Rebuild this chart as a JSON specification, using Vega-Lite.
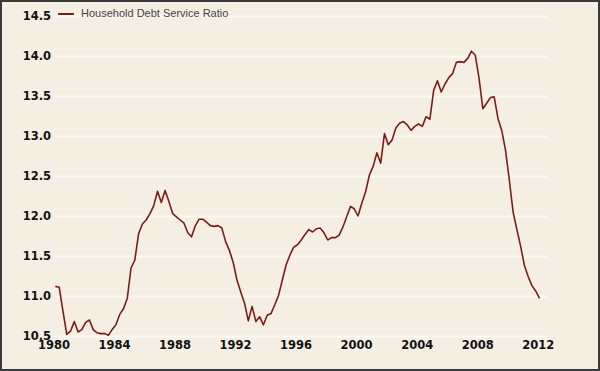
{
  "$schema": "https://vega.github.io/schema/vega-lite/v6.json",
  "width": 598,
  "height": 369,
  "autosize": {"type": "none"},
  "padding": 1,
  "background": "#f5eee2",
  "config": {
    "view": {"stroke": "#3a3a3a", "strokeWidth": 2, "fill": "#f5eee2"}
  },
  "data": {
    "values": [
      {"year": 1980.125, "value": 11.12, "series": "Household Debt Service Ratio"},
      {"year": 1980.375, "value": 11.11, "series": "Household Debt Service Ratio"},
      {"year": 1980.625, "value": 10.81, "series": "Household Debt Service Ratio"},
      {"year": 1980.875, "value": 10.52, "series": "Household Debt Service Ratio"},
      {"year": 1981.125, "value": 10.56, "series": "Household Debt Service Ratio"},
      {"year": 1981.375, "value": 10.68, "series": "Household Debt Service Ratio"},
      {"year": 1981.625, "value": 10.55, "series": "Household Debt Service Ratio"},
      {"year": 1981.875, "value": 10.58, "series": "Household Debt Service Ratio"},
      {"year": 1982.125, "value": 10.67, "series": "Household Debt Service Ratio"},
      {"year": 1982.375, "value": 10.70, "series": "Household Debt Service Ratio"},
      {"year": 1982.625, "value": 10.58, "series": "Household Debt Service Ratio"},
      {"year": 1982.875, "value": 10.54, "series": "Household Debt Service Ratio"},
      {"year": 1983.125, "value": 10.53, "series": "Household Debt Service Ratio"},
      {"year": 1983.375, "value": 10.53, "series": "Household Debt Service Ratio"},
      {"year": 1983.625, "value": 10.51, "series": "Household Debt Service Ratio"},
      {"year": 1983.875, "value": 10.58, "series": "Household Debt Service Ratio"},
      {"year": 1984.125, "value": 10.64, "series": "Household Debt Service Ratio"},
      {"year": 1984.375, "value": 10.77, "series": "Household Debt Service Ratio"},
      {"year": 1984.625, "value": 10.84, "series": "Household Debt Service Ratio"},
      {"year": 1984.875, "value": 10.97, "series": "Household Debt Service Ratio"},
      {"year": 1985.125, "value": 11.35, "series": "Household Debt Service Ratio"},
      {"year": 1985.375, "value": 11.45, "series": "Household Debt Service Ratio"},
      {"year": 1985.625, "value": 11.78, "series": "Household Debt Service Ratio"},
      {"year": 1985.875, "value": 11.90, "series": "Household Debt Service Ratio"},
      {"year": 1986.125, "value": 11.95, "series": "Household Debt Service Ratio"},
      {"year": 1986.375, "value": 12.03, "series": "Household Debt Service Ratio"},
      {"year": 1986.625, "value": 12.13, "series": "Household Debt Service Ratio"},
      {"year": 1986.875, "value": 12.31, "series": "Household Debt Service Ratio"},
      {"year": 1987.125, "value": 12.17, "series": "Household Debt Service Ratio"},
      {"year": 1987.375, "value": 12.32, "series": "Household Debt Service Ratio"},
      {"year": 1987.625, "value": 12.18, "series": "Household Debt Service Ratio"},
      {"year": 1987.875, "value": 12.03, "series": "Household Debt Service Ratio"},
      {"year": 1988.125, "value": 11.99, "series": "Household Debt Service Ratio"},
      {"year": 1988.375, "value": 11.95, "series": "Household Debt Service Ratio"},
      {"year": 1988.625, "value": 11.91, "series": "Household Debt Service Ratio"},
      {"year": 1988.875, "value": 11.79, "series": "Household Debt Service Ratio"},
      {"year": 1989.125, "value": 11.74, "series": "Household Debt Service Ratio"},
      {"year": 1989.375, "value": 11.88, "series": "Household Debt Service Ratio"},
      {"year": 1989.625, "value": 11.96, "series": "Household Debt Service Ratio"},
      {"year": 1989.875, "value": 11.96, "series": "Household Debt Service Ratio"},
      {"year": 1990.125, "value": 11.92, "series": "Household Debt Service Ratio"},
      {"year": 1990.375, "value": 11.88, "series": "Household Debt Service Ratio"},
      {"year": 1990.625, "value": 11.87, "series": "Household Debt Service Ratio"},
      {"year": 1990.875, "value": 11.88, "series": "Household Debt Service Ratio"},
      {"year": 1991.125, "value": 11.85, "series": "Household Debt Service Ratio"},
      {"year": 1991.375, "value": 11.68, "series": "Household Debt Service Ratio"},
      {"year": 1991.625, "value": 11.57, "series": "Household Debt Service Ratio"},
      {"year": 1991.875, "value": 11.42, "series": "Household Debt Service Ratio"},
      {"year": 1992.125, "value": 11.20, "series": "Household Debt Service Ratio"},
      {"year": 1992.375, "value": 11.05, "series": "Household Debt Service Ratio"},
      {"year": 1992.625, "value": 10.91, "series": "Household Debt Service Ratio"},
      {"year": 1992.875, "value": 10.69, "series": "Household Debt Service Ratio"},
      {"year": 1993.125, "value": 10.87, "series": "Household Debt Service Ratio"},
      {"year": 1993.375, "value": 10.68, "series": "Household Debt Service Ratio"},
      {"year": 1993.625, "value": 10.74, "series": "Household Debt Service Ratio"},
      {"year": 1993.875, "value": 10.64, "series": "Household Debt Service Ratio"},
      {"year": 1994.125, "value": 10.76, "series": "Household Debt Service Ratio"},
      {"year": 1994.375, "value": 10.78, "series": "Household Debt Service Ratio"},
      {"year": 1994.625, "value": 10.89, "series": "Household Debt Service Ratio"},
      {"year": 1994.875, "value": 11.01, "series": "Household Debt Service Ratio"},
      {"year": 1995.125, "value": 11.20, "series": "Household Debt Service Ratio"},
      {"year": 1995.375, "value": 11.39, "series": "Household Debt Service Ratio"},
      {"year": 1995.625, "value": 11.51, "series": "Household Debt Service Ratio"},
      {"year": 1995.875, "value": 11.61, "series": "Household Debt Service Ratio"},
      {"year": 1996.125, "value": 11.64, "series": "Household Debt Service Ratio"},
      {"year": 1996.375, "value": 11.70, "series": "Household Debt Service Ratio"},
      {"year": 1996.625, "value": 11.77, "series": "Household Debt Service Ratio"},
      {"year": 1996.875, "value": 11.83, "series": "Household Debt Service Ratio"},
      {"year": 1997.125, "value": 11.80, "series": "Household Debt Service Ratio"},
      {"year": 1997.375, "value": 11.84, "series": "Household Debt Service Ratio"},
      {"year": 1997.625, "value": 11.85, "series": "Household Debt Service Ratio"},
      {"year": 1997.875, "value": 11.79, "series": "Household Debt Service Ratio"},
      {"year": 1998.125, "value": 11.70, "series": "Household Debt Service Ratio"},
      {"year": 1998.375, "value": 11.73, "series": "Household Debt Service Ratio"},
      {"year": 1998.625, "value": 11.73, "series": "Household Debt Service Ratio"},
      {"year": 1998.875, "value": 11.76, "series": "Household Debt Service Ratio"},
      {"year": 1999.125, "value": 11.86, "series": "Household Debt Service Ratio"},
      {"year": 1999.375, "value": 11.99, "series": "Household Debt Service Ratio"},
      {"year": 1999.625, "value": 12.12, "series": "Household Debt Service Ratio"},
      {"year": 1999.875, "value": 12.09, "series": "Household Debt Service Ratio"},
      {"year": 2000.125, "value": 12.00, "series": "Household Debt Service Ratio"},
      {"year": 2000.375, "value": 12.16, "series": "Household Debt Service Ratio"},
      {"year": 2000.625, "value": 12.30, "series": "Household Debt Service Ratio"},
      {"year": 2000.875, "value": 12.51, "series": "Household Debt Service Ratio"},
      {"year": 2001.125, "value": 12.62, "series": "Household Debt Service Ratio"},
      {"year": 2001.375, "value": 12.79, "series": "Household Debt Service Ratio"},
      {"year": 2001.625, "value": 12.66, "series": "Household Debt Service Ratio"},
      {"year": 2001.875, "value": 13.03, "series": "Household Debt Service Ratio"},
      {"year": 2002.125, "value": 12.89, "series": "Household Debt Service Ratio"},
      {"year": 2002.375, "value": 12.95, "series": "Household Debt Service Ratio"},
      {"year": 2002.625, "value": 13.10, "series": "Household Debt Service Ratio"},
      {"year": 2002.875, "value": 13.16, "series": "Household Debt Service Ratio"},
      {"year": 2003.125, "value": 13.18, "series": "Household Debt Service Ratio"},
      {"year": 2003.375, "value": 13.14, "series": "Household Debt Service Ratio"},
      {"year": 2003.625, "value": 13.07, "series": "Household Debt Service Ratio"},
      {"year": 2003.875, "value": 13.12, "series": "Household Debt Service Ratio"},
      {"year": 2004.125, "value": 13.15, "series": "Household Debt Service Ratio"},
      {"year": 2004.375, "value": 13.12, "series": "Household Debt Service Ratio"},
      {"year": 2004.625, "value": 13.24, "series": "Household Debt Service Ratio"},
      {"year": 2004.875, "value": 13.21, "series": "Household Debt Service Ratio"},
      {"year": 2005.125, "value": 13.57, "series": "Household Debt Service Ratio"},
      {"year": 2005.375, "value": 13.69, "series": "Household Debt Service Ratio"},
      {"year": 2005.625, "value": 13.55, "series": "Household Debt Service Ratio"},
      {"year": 2005.875, "value": 13.65, "series": "Household Debt Service Ratio"},
      {"year": 2006.125, "value": 13.73, "series": "Household Debt Service Ratio"},
      {"year": 2006.375, "value": 13.78, "series": "Household Debt Service Ratio"},
      {"year": 2006.625, "value": 13.92, "series": "Household Debt Service Ratio"},
      {"year": 2006.875, "value": 13.93, "series": "Household Debt Service Ratio"},
      {"year": 2007.125, "value": 13.92, "series": "Household Debt Service Ratio"},
      {"year": 2007.375, "value": 13.97, "series": "Household Debt Service Ratio"},
      {"year": 2007.625, "value": 14.06, "series": "Household Debt Service Ratio"},
      {"year": 2007.875, "value": 14.01, "series": "Household Debt Service Ratio"},
      {"year": 2008.125, "value": 13.72, "series": "Household Debt Service Ratio"},
      {"year": 2008.375, "value": 13.34, "series": "Household Debt Service Ratio"},
      {"year": 2008.625, "value": 13.41, "series": "Household Debt Service Ratio"},
      {"year": 2008.875, "value": 13.48, "series": "Household Debt Service Ratio"},
      {"year": 2009.125, "value": 13.49, "series": "Household Debt Service Ratio"},
      {"year": 2009.375, "value": 13.22, "series": "Household Debt Service Ratio"},
      {"year": 2009.625, "value": 13.07, "series": "Household Debt Service Ratio"},
      {"year": 2009.875, "value": 12.82, "series": "Household Debt Service Ratio"},
      {"year": 2010.125, "value": 12.45, "series": "Household Debt Service Ratio"},
      {"year": 2010.375, "value": 12.05, "series": "Household Debt Service Ratio"},
      {"year": 2010.625, "value": 11.83, "series": "Household Debt Service Ratio"},
      {"year": 2010.875, "value": 11.62, "series": "Household Debt Service Ratio"},
      {"year": 2011.125, "value": 11.38, "series": "Household Debt Service Ratio"},
      {"year": 2011.375, "value": 11.24, "series": "Household Debt Service Ratio"},
      {"year": 2011.625, "value": 11.13, "series": "Household Debt Service Ratio"},
      {"year": 2011.875, "value": 11.06, "series": "Household Debt Service Ratio"},
      {"year": 2012.125, "value": 10.97, "series": "Household Debt Service Ratio"}
    ]
  },
  "mark": {"type": "line", "strokeWidth": 1.6, "strokeJoin": "round"},
  "encoding": {
    "x": {
      "field": "year",
      "type": "quantitative",
      "scale": {"domain": [1980, 2012.55], "range": [52.5, 545], "nice": false, "zero": false},
      "axis": {
        "values": [1980, 1984, 1988, 1992, 1996, 2000, 2004, 2008, 2012],
        "format": "d",
        "title": null,
        "grid": false,
        "domain": false,
        "ticks": false,
        "offset": -34,
        "labelPadding": 3,
        "labelFlush": false,
        "labelFont": "DejaVu Sans",
        "labelFontWeight": "bold",
        "labelFontSize": 11.5,
        "labelColor": "#111111"
      }
    },
    "y": {
      "field": "value",
      "type": "quantitative",
      "scale": {"domain": [10.5, 14.5], "range": [335, 15], "nice": false, "zero": false},
      "axis": {
        "values": [10.5, 11, 11.5, 12, 12.5, 13, 13.5, 14, 14.5],
        "format": ".1f",
        "title": null,
        "grid": true,
        "gridColor": "#fdfaf4",
        "gridWidth": 2,
        "domain": false,
        "ticks": false,
        "offset": -52.5,
        "labelPadding": 3,
        "labelFlush": false,
        "labelFont": "DejaVu Sans",
        "labelFontWeight": "bold",
        "labelFontSize": 11.5,
        "labelColor": "#111111"
      }
    },
    "color": {
      "field": "series",
      "type": "nominal",
      "scale": {"range": ["#7a1f17"]},
      "legend": {
        "orient": "none",
        "legendX": 56,
        "legendY": 4,
        "title": null,
        "padding": 0,
        "symbolType": "stroke",
        "symbolStrokeWidth": 2,
        "symbolSize": 250,
        "labelOffset": 6,
        "labelFont": "Liberation Sans",
        "labelFontSize": 11,
        "labelColor": "#444444"
      }
    }
  }
}
